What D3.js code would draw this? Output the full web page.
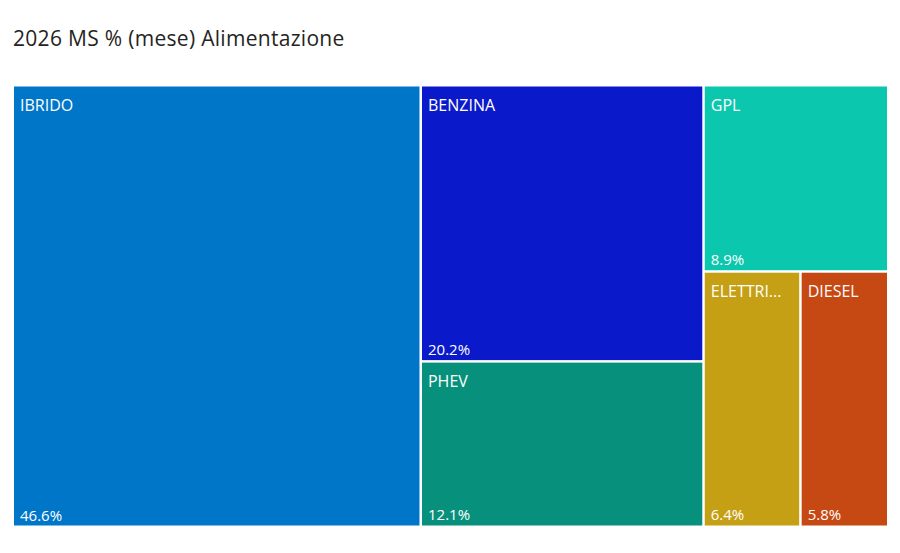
<!DOCTYPE html>
<html>
<head>
<meta charset="utf-8">
<script src="https://cdn.jsdelivr.net/npm/d3@7"></script>
<style>
  html, body { margin: 0; padding: 0; background: #fff; }
  svg { display: block; }
</style>
</head>
<body>
<svg id="chart" width="900" height="553"></svg>
<script>
const categories = ["IBRIDO", "BENZINA", "PHEV", "GPL", "ELETTRICO", "DIESEL"];
const shares = [46.6, 20.2, 12.1, 8.9, 6.4, 5.8];
const colors = ["#0076C9", "#0A19C9", "#07917C", "#0BC7AE", "#C5A015", "#C64813"];
const title = "2026 MS % (mese) Alimentazione";

const W = 900, H = 553;
const svg = d3.select("#chart");
const font = "'Open Sans', 'Noto Sans', sans-serif";

svg.append("text")
  .attr("x", 13).attr("y", 46)
  .attr("font-family", font).attr("font-size", 21)
  .attr("letter-spacing", 0.3)
  .attr("fill", "#252423")
  .text(title);

const data = categories.map((c, i) => ({ name: c, value: shares[i], color: colors[i] }));
const root = d3.hierarchy({ children: data }).sum(d => d.value || 0)
  .sort((a, b) => b.value - a.value);

d3.treemap()
  .tile(d3.treemapSquarify)
  .size([873, 439])
  .paddingInner(2.5)
  .round(false)(root);

const g = svg.append("g").attr("transform", "translate(14,86.5)");
const leaves = g.selectAll("g.leaf").data(root.leaves()).join("g")
  .attr("class", "leaf")
  .attr("transform", d => `translate(${d.x0},${d.y0})`);

leaves.append("rect")
  .attr("width", d => d.x1 - d.x0)
  .attr("height", d => d.y1 - d.y0)
  .attr("fill", d => d.data.color);

const fmt = v => v.toFixed(1) + "%";

leaves.each(function(d) {
  const sel = d3.select(this);
  const w = d.x1 - d.x0, h = d.y1 - d.y0;
  const t = sel.append("text")
    .attr("x", 6).attr("y", 24)
    .attr("font-family", font).attr("font-size", 16)
    .attr("fill", "#fff")
    .text(d.data.name);
  const maxW = w - 14;
  let s = d.data.name;
  if (t.node().getComputedTextLength() > maxW) {
    while (s.length > 1) {
      s = s.slice(0, -1);
      t.text(s + "...");
      if (t.node().getComputedTextLength() <= maxW) break;
    }
  }
  sel.append("text")
    .attr("x", 6).attr("y", h - 5)
    .attr("font-family", font).attr("font-size", 15)
    .attr("fill", "#fff")
    .text(fmt(d.data.value));
});
</script>
</body>
</html>
